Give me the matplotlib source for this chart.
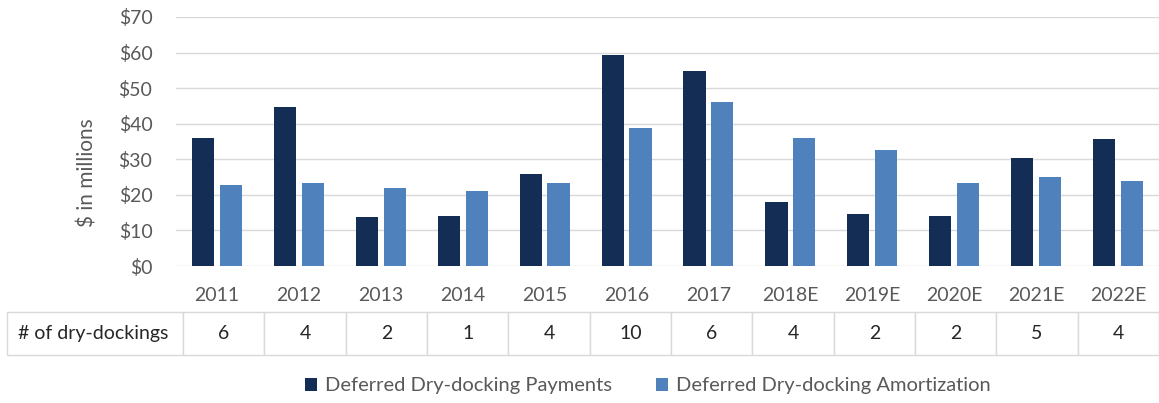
import numpy as np
from matplotlib import pyplot as plt
from matplotlib import ticker

plt.rcParams['font.family'] = ['Lato', 'DejaVu Sans']

# data
years = ['2011', '2012', '2013', '2014', '2015', '2016', '2017',
         '2018E', '2019E', '2020E', '2021E', '2022E']
payments = [36.0, 44.8, 13.9, 14.1, 25.8, 59.2, 54.7, 18.0, 14.7, 14.1, 30.4, 35.8]
amortization = [22.7, 23.4, 21.9, 21.1, 23.2, 38.9, 46.2, 36.0, 32.5, 23.3, 24.9, 23.9]
dry_dockings = [6, 4, 2, 1, 4, 10, 6, 4, 2, 2, 5, 4]

dark_blue = '#142d55'
light_blue = '#4f81bd'
tick_gray = '#595959'
grid_gray = '#d9d9d9'

W, H = 1159, 403
fig = plt.figure(figsize=(W / 100, H / 100), dpi=100)

# main bar axes (pixel box 176..1159 x 17..266)
ax = fig.add_axes([176 / W, (H - 266) / H, (W - 176) / W, (266 - 17) / H])
x = np.arange(len(years))
bw = 0.27
ax.bar(x - 0.17, payments, bw, color=dark_blue, label='Deferred Dry-docking Payments', zorder=3)
ax.bar(x + 0.17, amortization, bw, color=light_blue, label='Deferred Dry-docking Amortization', zorder=3)

ax.set_xlim(-0.5, len(years) - 0.5)
ax.set_ylim(0, 70)
ax.yaxis.set_major_locator(ticker.MultipleLocator(10))
ax.yaxis.set_major_formatter(ticker.FuncFormatter(lambda v, p: '$%d' % v))
ax.set_xticks(x)
ax.set_xticklabels(years)
ax.tick_params(axis='y', length=0, pad=17, labelsize=14, labelcolor=tick_gray)
ax.tick_params(axis='x', length=0, pad=15, labelsize=14, labelcolor=tick_gray)
ax.grid(True, axis='y', color=grid_gray, lw=1, zorder=0)
for s in ax.spines.values():
    s.set_visible(False)

fig.text(88 / W, (H - 173) / H, '$ in millions', rotation=90, ha='center', va='center',
         fontsize=15, color=tick_gray)

# table of dry-dockings below the axis
tax = fig.add_axes([7 / W, (H - 355) / H, (W - 7) / W, (355 - 312) / H])
tax.axis('off')
label_w = (183 - 7)
col_w = (W - 183) / len(years)
total = label_w + col_w * len(years)
tbl = tax.table(cellText=[['# of dry-dockings'] + [str(n) for n in dry_dockings]],
                colWidths=[label_w / total] + [col_w / total] * len(years),
                cellLoc='center', bbox=[0, 0, 1, 1])
tbl.auto_set_font_size(False)
for (r, c), cell in tbl.get_celld().items():
    cell.set_edgecolor(grid_gray)
    cell.set_linewidth(1)
    cell.get_text().set_fontsize(14)
    cell.get_text().set_color('#262626')
    if c == 0:
        cell.get_text().set_ha('left')
        cell._loc = 'left'
        cell.PAD = 0.06

fig.legend(loc='center', bbox_to_anchor=(648 / W, (H - 386) / H), ncol=2, frameon=False,
           fontsize=14.5, labelcolor=tick_gray, handlelength=0.6, handleheight=0.6,
           handletextpad=0.4, columnspacing=2.2)

fig.savefig('out.png', dpi=100)
